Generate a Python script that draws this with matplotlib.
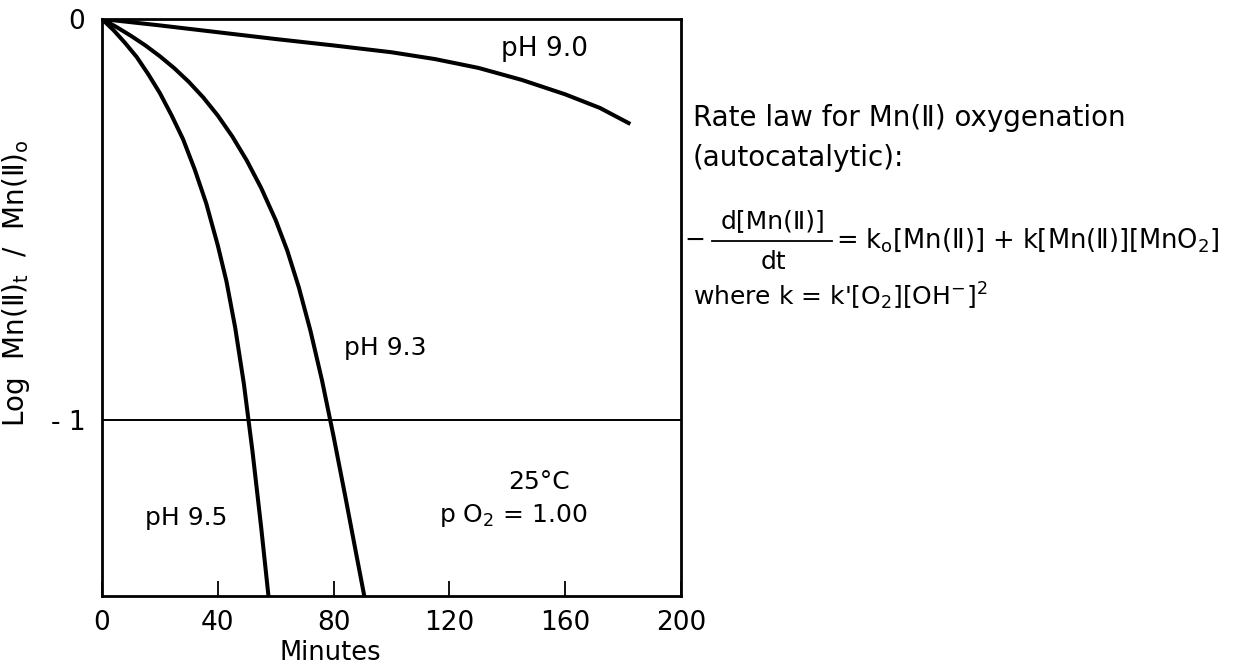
import numpy as np
import matplotlib.pyplot as plt

# curves: minutes vs log Mn(II)t / Mn(II)o
t_ph90 = [0, 20, 40, 60, 80, 100, 115, 130, 145, 160, 172, 182.5]
y_ph90 = [0, -0.016, -0.033, -0.05, -0.066, -0.083, -0.1, -0.122, -0.152, -0.188, -0.222, -0.262]

t_ph93 = [0, 5, 10, 15, 20, 25, 30, 35, 40, 45, 50, 55, 60, 64, 68, 72, 76, 80, 84, 88, 90.6]
y_ph93 = [0, -0.02, -0.042, -0.066, -0.093, -0.123, -0.157, -0.196, -0.241, -0.293, -0.353,
          -0.422, -0.502, -0.578, -0.67, -0.778, -0.902, -1.042, -1.19, -1.342, -1.44]

t_ph95 = [0, 4, 8, 12, 16, 20, 24, 28, 32, 36, 40, 43, 46, 49, 52, 55, 57.5]
y_ph95 = [0, -0.028, -0.06, -0.095, -0.138, -0.185, -0.24, -0.3, -0.375, -0.46, -0.565,
          -0.655, -0.77, -0.91, -1.08, -1.27, -1.44]

x_ticks = [0, 40, 80, 120, 160, 200]
y_ticks = [-1, 0]
y_tick_labels = ['- 1', '0']

FAM = ['DejaVu Sans', 'Noto Sans CJK SC']
plt.rcParams['font.family'] = FAM
plt.rcParams['mathtext.fontset'] = 'dejavusans'

W, H = 1260, 665
fig = plt.figure(figsize=(W / 100, H / 100), dpi=100)
ax = fig.add_axes([102 / W, 1 - 596 / H, 579 / W, 577 / H])

lw = 2.9
for t, y in [(t_ph90, y_ph90), (t_ph93, y_ph93), (t_ph95, y_ph95)]:
    ax.plot(t, y, color='black', lw=lw, solid_capstyle='butt', solid_joinstyle='round')
ax.axhline(-1, color='black', lw=1.4)

ax.set_xlim(0, 200)
ax.set_ylim(-1.44, 0)
for s in ax.spines.values():
    s.set_linewidth(2)

ax.set_xticks(x_ticks)
ax.set_xticklabels([str(v) for v in x_ticks], fontsize=19)
ax.tick_params(axis='x', direction='in', length=11, width=1.3, pad=10)
ax.set_yticks(y_ticks)
ax.set_yticklabels(y_tick_labels, fontsize=19)
ax.tick_params(axis='y', length=0, pad=12)

ax.set_xlabel('Minutes', fontsize=18.5)
ax.xaxis.set_label_coords(0.394, -0.077)
ax.set_ylabel('Log  Mn(Ⅱ)$_\\mathrm{t}$  /  Mn(Ⅱ)$_\\mathrm{o}$', fontsize=20)
ax.yaxis.set_label_coords(-0.121, 0.542)

# curve labels
ax.text(153, -0.075, 'pH 9.0', fontsize=19, ha='center', va='center')
ax.text(98, -0.82, 'pH 9.3', fontsize=18, ha='center', va='center')
ax.text(29, -1.245, 'pH 9.5', fontsize=18, ha='center', va='center')
ax.text(151, -1.155, '25°C', fontsize=18, ha='center', va='center')
ax.text(142, -1.24, 'p O$_2$ = 1.00', fontsize=18, ha='center', va='center')

# rate law text block on the right
def ft(px, py, s, size=18, **kw):
    fig.text(px / W, 1 - py / H, s, fontsize=size, va='center', **kw)

ft(693, 118, 'Rate law for Mn(Ⅱ) oxygenation', size=20)
ft(693, 158, '(autocatalytic):', size=20)
ft(684, 240, '−')
ft(773, 221, 'd[Mn(Ⅱ)]', ha='center')
ft(773, 262, 'dt', ha='center')
fig.add_artist(plt.Line2D([712 / W, 832 / W], [1 - 241 / H, 1 - 241 / H],
                          color='black', lw=1.3))
ft(836, 240, '= k$_\\mathrm{o}$[Mn(Ⅱ)] + k[Mn(Ⅱ)][MnO$_2$]', size=18.5)
ft(693, 296, "where k = k'[O$_2$][OH$^{-}$]$^2$")

fig.savefig('out.png', dpi=100)
